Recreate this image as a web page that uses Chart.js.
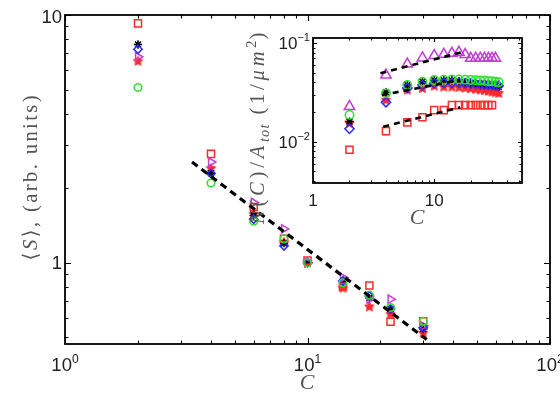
<!DOCTYPE html>
<html><head><meta charset="utf-8">
<script src="https://cdn.jsdelivr.net/npm/chart.js@4.4.0/dist/chart.umd.min.js"></script>
<style>
html,body{margin:0;padding:0;background:#fff;}
#wrap{position:relative;width:560px;height:397px;overflow:hidden;}
#wrap canvas{position:absolute;left:0;top:0;}
</style></head><body>
<div id="wrap"><canvas id="main" width="560" height="397"></canvas><canvas id="inset" width="560" height="397"></canvas></div>
<script>
// ---------- main panel data ----------
const mainC         = [2, 4, 6, 8, 10, 14, 18, 22, 30];
const mainSquares   = [9.25, 2.75, 1.68, 1.25, 1.02, 0.80, 0.81, 0.578, 0.58];
const mainCircles   = [5.1, 2.1, 1.47, 1.25, 1.0, 0.83, 0.74, 0.66, 0.58];
const mainDiamonds  = [7.28, 2.29, 1.5, 1.17, 1.0, 0.845, 0.735, 0.65, 0.547];
const mainTriangles = [6.78, 2.55, 1.75, 1.37, 1.0, 0.872, 0.713, 0.713, 0.556];
const mainAsterisks = [7.6, 2.3, 1.55, 1.2, 1.0, 0.84, 0.72, 0.65, 0.54];
const mainStars     = [6.51, 2.40, 1.57, 1.21, 1.0, 0.79, 0.664, 0.62, 0.52];
const mainFitC      = [3.34, 31];
const mainFitS      = [2.55, 0.49];
const mainXTicks    = [1, 10, 100];
const mainXTickExp  = ['0', '1', '2'];
const mainYTicks    = [1, 10];
const mainYTickText = ['1', '10'];

// ---------- inset data ----------
const insetC         = [2, 4, 6, 8, 10, 12, 14, 16, 18, 20, 22, 24, 26, 28, 30, 32, 34];
const insetTriangles = [0.0227, 0.0474, 0.0612, 0.0705, 0.0747, 0.0768, 0.0787, 0.0806, 0.0764, 0.070, 0.070, 0.070, 0.070, 0.070, 0.070, 0.070];
const insetCircles   = [0.0187, 0.0309, 0.0375, 0.0406, 0.0422, 0.0425, 0.0428, 0.0428, 0.0425, 0.0422, 0.042, 0.0418, 0.0415, 0.041, 0.041, 0.0405, 0.040];
const insetDiamonds  = [0.0135, 0.0251, 0.035, 0.0375, 0.039, 0.0394, 0.0394, 0.0394, 0.039, 0.0388, 0.0385, 0.0382, 0.038, 0.0378, 0.0375, 0.0372, 0.037];
const insetAsterisks = [0.0160, 0.0318, 0.0375, 0.0406, 0.042, 0.042, 0.042, 0.041, 0.040, 0.0395, 0.039, 0.0385, 0.038, 0.0375, 0.037, 0.0365, 0.036];
const insetStars     = [0.0154, 0.0264, 0.0334, 0.0347, 0.0366, 0.0358, 0.0358, 0.0355, 0.035, 0.0345, 0.034, 0.0335, 0.033, 0.0325, 0.032, 0.0315, 0.031];
const insetSquares   = [0.0083, 0.0128, 0.0157, 0.0177, 0.0209, 0.0209, 0.0235, 0.0235, 0.0235, 0.0235, 0.0235, 0.0235, 0.0235, 0.0235, 0.0235];
const insetFitTopC = [3.6, 17.5],  insetFitTopN = [0.0493, 0.0816];
const insetFitMidC = [3.7, 16.4],  insetFitMidN = [0.0297, 0.0422];
const insetFitLowC = [3.8, 16.4],  insetFitLowN = [0.0142, 0.0223];
const insetXTicks    = [1, 10];
const insetXTickText = ['1', '10'];
const insetYTicks    = [0.01, 0.1];
const insetYTickExp  = ['\u22122', '\u22121'];

// ---------- helpers ----------
const SANS = "'Liberation Sans', Arial, sans-serif";
const SERIF = "'Liberation Serif', 'DejaVu Serif', serif";
const RED = '#ff2a2a', GREEN = '#2ee02e', BLUE = '#2b2bff', MAG = '#c43cd6', BLK = '#000';
const pts = (xs, ys) => ys.map((y, i) => ({x: xs[i], y}));

function makeStar(r, color) {
  const c = document.createElement('canvas');
  const s = Math.ceil(r * 2 + 3); c.width = s; c.height = s;
  const g = c.getContext('2d');
  g.beginPath();
  for (let i = 0; i < 10; i++) {
    const a = -Math.PI / 2 + i * Math.PI / 5, rr = i % 2 ? r * 0.5 : r;
    g.lineTo(s / 2 + rr * Math.cos(a), s / 2 + rr * Math.sin(a));
  }
  g.closePath(); g.fillStyle = color; g.fill();
  g.strokeStyle = color; g.lineWidth = 1; g.stroke();
  return c;
}
const starMain = makeStar(5, RED);
const starInset = makeStar(5, RED);

function fontOf(p, size) {
  return (p.italic ? 'italic ' : '') + (size * (p.scale || 1)).toFixed(2) + 'px ' + (p.fam || SERIF);
}
function charCount(parts) { return parts.reduce((n, p) => n + [...p.t].length, 0); }
function richWidth(ctx, parts, size, sp) {
  let w = 0;
  for (const p of parts) { ctx.font = fontOf(p, size); w += ctx.measureText(p.t).width; }
  return w + (sp || 0) * (charCount(parts) - 1);
}
function drawRich(ctx, parts, cx, cy, size, rot, align, color, sp) {
  sp = sp || 0;
  ctx.save(); ctx.translate(cx, cy); if (rot) ctx.rotate(rot);
  const total = richWidth(ctx, parts, size, sp);
  let x = align === 'center' ? -total / 2 : (align === 'right' ? -total : 0);
  const base = 0.35 * size * (parts[0].scale || 1);
  ctx.textBaseline = 'alphabetic'; ctx.textAlign = 'left'; ctx.fillStyle = color;
  for (const p of parts) {
    ctx.font = fontOf(p, size);
    const psp = p.scale && p.scale < 1 ? sp * 0.3 : sp;
    for (const ch of [...p.t]) {
      ctx.fillText(ch, x, base + (p.dy || 0) * size);
      x += ctx.measureText(ch).width + psp;
    }
  }
  ctx.restore();
}

function logVals(min, max) {
  const major = [], minor = [];
  for (let e = Math.floor(Math.log10(min)); e <= Math.ceil(Math.log10(max)); e++) {
    for (let m = 1; m < 10; m++) {
      const v = m * Math.pow(10, e);
      if (v < min * 0.999 || v > max * 1.001) continue;
      (m === 1 ? major : minor).push(v);
    }
  }
  return {major, minor};
}

const deco = {
  id: 'deco',
  beforeDraw(chart, args, o) {
    if (o.white) {
      const a = chart.chartArea, ctx = chart.ctx;
      ctx.save(); ctx.fillStyle = '#fff';
      ctx.fillRect(a.left, a.top, a.right - a.left, a.bottom - a.top); ctx.restore();
    }
  },
  afterDraw(chart, args, o) {
    const ctx = chart.ctx, a = chart.chartArea, xs = chart.scales.x, ys = chart.scales.y;
    ctx.save();
    ctx.strokeStyle = '#000';
    const tx = logVals(xs.min, xs.max), ty = logVals(ys.min, ys.max);
    ctx.lineWidth = 1.1;
    ctx.beginPath();
    [[tx.major, o.maj], [tx.minor, o.min]].forEach(([vals, L]) => vals.forEach(v => {
      const p = Math.round(xs.getPixelForValue(v)) + 0.5;
      ctx.moveTo(p, a.bottom); ctx.lineTo(p, a.bottom - L);
      ctx.moveTo(p, a.top); ctx.lineTo(p, a.top + L);
    }));
    [[ty.major, o.maj], [ty.minor, o.min]].forEach(([vals, L]) => vals.forEach(v => {
      const p = Math.round(ys.getPixelForValue(v)) + 0.5;
      ctx.moveTo(a.left, p); ctx.lineTo(a.left + L, p);
      ctx.moveTo(a.right, p); ctx.lineTo(a.right - L, p);
    }));
    ctx.stroke();
    ctx.lineWidth = o.lw;
    ctx.strokeRect(a.left, a.top, a.right - a.left, a.bottom - a.top);
    ctx.restore();
    o.xLabels.forEach(l => drawRich(ctx, l.parts, xs.getPixelForValue(l.v), o.xLabelY, 1, 0, 'center', '#222'));
    o.yLabels.forEach(l => drawRich(ctx, l.parts, o.yLabelX, ys.getPixelForValue(l.v) + (l.dy || 0), 1, 0, 'right', '#222'));
    o.titles.forEach(t => {
      let sp = 0;
      if (t.target) sp = Math.max(0, (t.target - richWidth(ctx, t.parts, t.size, 0)) / (charCount(t.parts) - 1));
      drawRich(ctx, t.parts, t.x, t.y, t.size, t.rot || 0, 'center', t.color, sp);
    });
  }
};
Chart.register(deco);

function tickParts(base, exp, size) {
  const parts = [{t: base, fam: SANS, scale: size}];
  if (exp) parts.push({t: exp, fam: SANS, scale: size * 0.65, dy: -0.45 * size});
  return parts;
}

function scatterSet(data, style, color, r, extra) {
  return Object.assign({
    data, pointStyle: style, pointRadius: r, pointHoverRadius: r,
    borderColor: color, backgroundColor: 'rgba(0,0,0,0)', pointBorderWidth: 1.5,
    showLine: false, order: 2
  }, extra || {});
}
function fitSet(data, width, dash) {
  return {data, showLine: true, pointRadius: 0, borderColor: '#000', borderWidth: width,
          borderDash: dash, borderCapStyle: 'butt', fill: false, order: 0};
}

// ---------- main chart ----------
new Chart(document.getElementById('main'), {
  type: 'scatter',
  data: {datasets: [
    fitSet(pts(mainFitC, mainFitS), 3.2, [7, 5]),
    scatterSet(pts(mainC, mainCircles), 'circle', GREEN, 3.8),
    scatterSet(pts(mainC, mainSquares), 'rect', RED, 5),
    scatterSet(pts(mainC, mainDiamonds), 'rectRot', BLUE, 4.2),
    scatterSet(pts(mainC, mainTriangles), 'triangle', MAG, 4.8, {rotation: 90}),
    scatterSet(pts(mainC, mainAsterisks), 'star', BLK, 4.2),
    scatterSet(pts(mainC, mainStars), starMain, RED, 5)
  ]},
  options: {
    responsive: false, animation: false, devicePixelRatio: 1,
    layout: {padding: {top: 15, right: 10, left: 0, bottom: 0}},
    scales: {
      x: {type: 'logarithmic', min: 1, max: 100, ticks: {display: false}, grid: {display: false}, border: {display: false},
          afterFit: s => { s.height = 53; }},
      y: {type: 'logarithmic', min: 0.47, max: 10, ticks: {display: false}, grid: {display: false}, border: {display: false},
          afterFit: s => { s.width = 65; }}
    },
    plugins: {
      legend: {display: false}, tooltip: {enabled: false},
      deco: {
        white: false, lw: 1.8, maj: 6, min: 3.5,
        xLabelY: 365, yLabelX: 62,
        xLabels: mainXTicks.map((v, i) => ({v, parts: tickParts('10', mainXTickExp[i], 18.5)})),
        yLabels: mainYTicks.map((v, i) => ({v, parts: tickParts(mainYTickText[i], null, 18.5), dy: i === 1 ? 2 : 0})),
        titles: [
          {parts: [{t: '\u27E8'}, {t: 'S', italic: true}, {t: '\u27E9, (arb. units)'}], x: 30, y: 178, size: 20.5, target: 165, rot: -Math.PI / 2, color: '#555'},
          {parts: [{t: 'C', italic: true}], x: 307, y: 381, size: 22, color: '#555'}
        ]
      }
    }
  }
});

// ---------- inset chart ----------
new Chart(document.getElementById('inset'), {
  type: 'scatter',
  data: {datasets: [
    fitSet(pts(insetFitTopC, insetFitTopN), 2.6, [6, 5]),
    fitSet(pts(insetFitMidC, insetFitMidN), 2.6, [6, 5]),
    fitSet(pts(insetFitLowC, insetFitLowN), 2.6, [6, 5]),
    scatterSet(pts(insetC, insetCircles), 'circle', GREEN, 4.2),
    scatterSet(pts(insetC, insetDiamonds), 'rectRot', BLUE, 4.6),
    scatterSet(pts(insetC, insetAsterisks), 'star', BLK, 4.2),
    scatterSet(pts(insetC, insetStars), starInset, RED, 5),
    scatterSet(pts(insetC, insetSquares), 'rect', RED, 5),
    scatterSet(pts(insetC, insetTriangles), 'triangle', MAG, 6)
  ]},
  options: {
    responsive: false, animation: false, devicePixelRatio: 1,
    layout: {padding: {top: 38, right: 38, left: 273, bottom: 184}},
    scales: {
      x: {type: 'logarithmic', min: 1, max: 53, ticks: {display: false}, grid: {display: false}, border: {display: false},
          afterFit: s => { s.height = 30; }},
      y: {type: 'logarithmic', min: 0.00382, max: 0.1124, ticks: {display: false}, grid: {display: false}, border: {display: false},
          afterFit: s => { s.width = 40; }}
    },
    plugins: {
      legend: {display: false}, tooltip: {enabled: false},
      deco: {
        white: true, lw: 1.8, maj: 4, min: 2.5,
        xLabelY: 200, yLabelX: 310,
        xLabels: insetXTicks.map((v, i) => ({v, parts: tickParts(insetXTickText[i], null, 17)})),
        yLabels: insetYTicks.map((v, i) => ({v, parts: tickParts('10', insetYTickExp[i], 17)})),
        titles: [
          {parts: [{t: 'N', italic: true}, {t: '('}, {t: 'C', italic: true}, {t: ')/'}, {t: 'A', italic: true},
                   {t: 'tot', italic: true, scale: 0.7, dy: 0.22}, {t: ' (1/'}, {t: '\u03BCm', italic: true},
                   {t: '2', scale: 0.7, dy: -0.4}, {t: ')'}],
           x: 257, y: 123, size: 20.5, target: 202, rot: -Math.PI / 2, color: '#555'},
          {parts: [{t: 'C', italic: true}], x: 417, y: 216, size: 22, color: '#555'}
        ]
      }
    }
  }
});
</script>
</body></html>
